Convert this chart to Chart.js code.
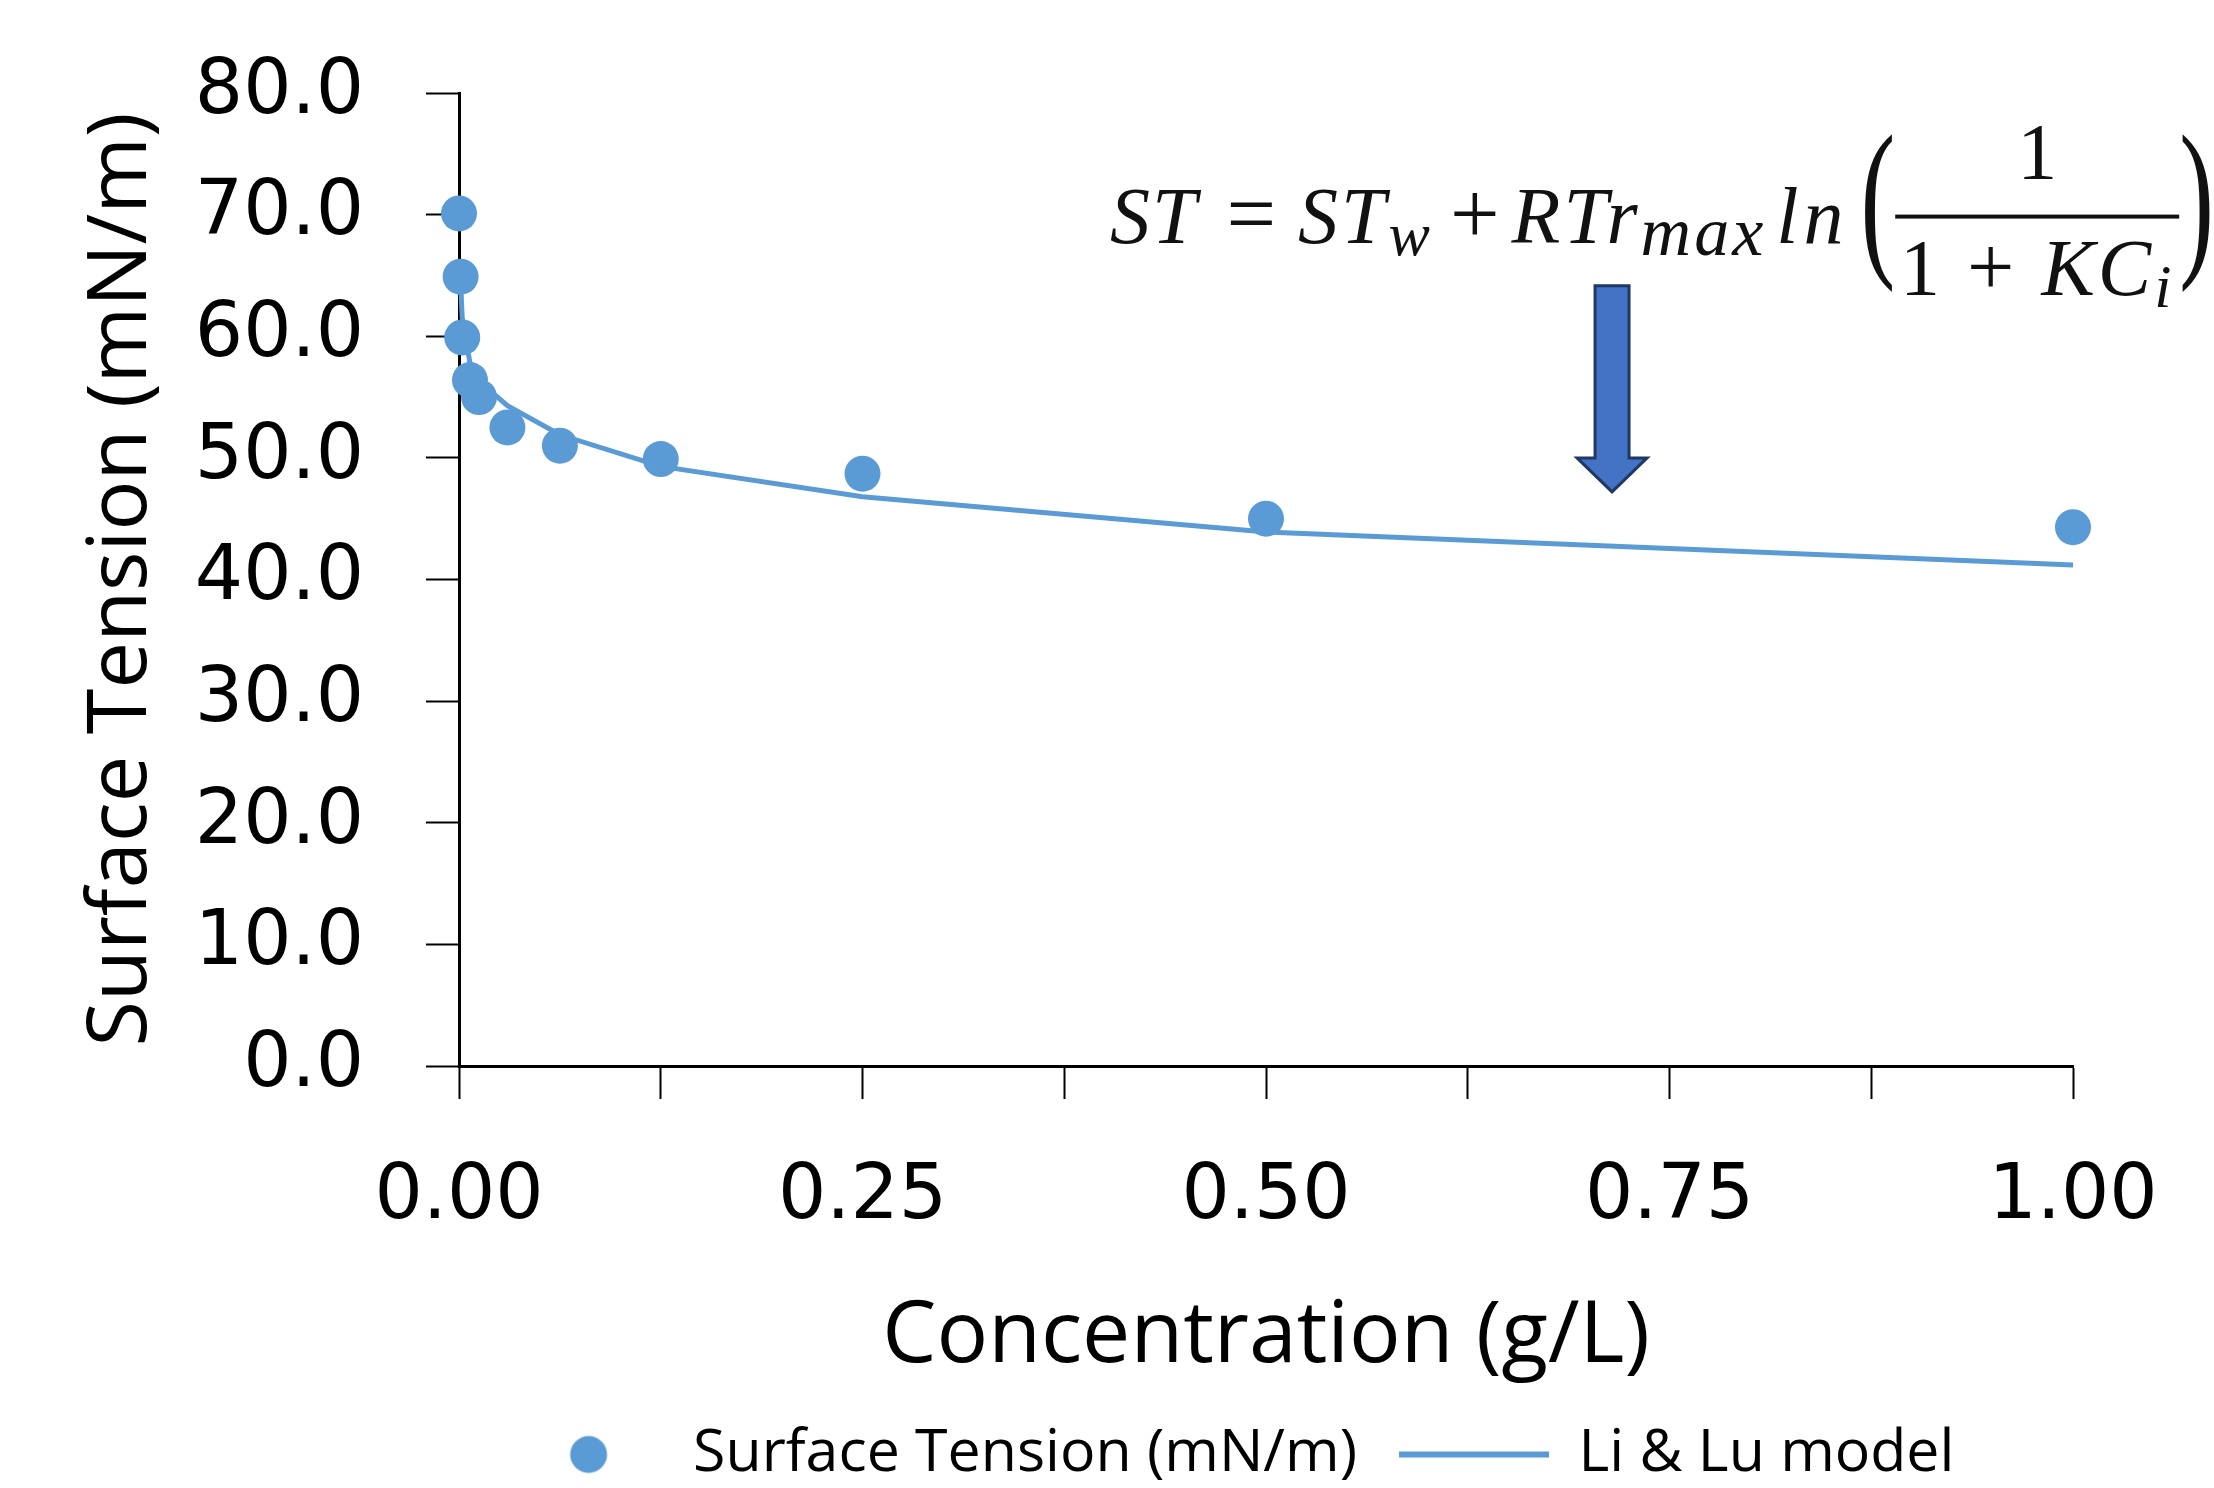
<!DOCTYPE html>
<html>
<head>
<meta charset="utf-8">
<script src="https://cdn.jsdelivr.net/npm/chart.js@4.4.1/dist/chart.umd.min.js"></script>
<style>
  html, body { margin: 0; padding: 0; background: #fff; }
  #wrap { width: 2214px; height: 1488px; }
</style>
</head>
<body>
<div id="wrap"><canvas id="stChart" width="2214" height="1488"></canvas></div>
<script>
// measured surface tension vs concentration
const concentration = [0, 0.001, 0.002, 0.0068, 0.0124, 0.03, 0.0625, 0.125, 0.25, 0.5, 1.0];
const surfaceTension = [70.1, 64.9, 59.9, 56.4, 55.0, 52.5, 51.0, 49.9, 48.7, 45.0, 44.3];

// Li & Lu model fit
const modelConcentration = [0.001, 0.002, 0.0068, 0.0124, 0.03, 0.0625, 0.125, 0.25, 0.5, 1.0];
const modelTension = [64.5, 61.5, 57.8, 56.3, 54.3, 51.9, 49.3, 46.8, 43.9, 41.2];

// axis ticks
const xTickValues = [0, 0.125, 0.25, 0.375, 0.5, 0.625, 0.75, 0.875, 1.0];
const xTickLabels = ['0.00', '', '0.25', '', '0.50', '', '0.75', '', '1.00'];
const yTickValues = [0, 10, 20, 30, 40, 50, 60, 70, 80];
const yTickLabels = ['0.0', '10.0', '20.0', '30.0', '40.0', '50.0', '60.0', '70.0', '80.0'];

// annotation anchors, in data units
const formulaAt = [0.4033, 67.7];
const arrowX = 0.7144;
const arrowFrom = 64.15, arrowNeck = 50.0, arrowTo = 47.2;

const blue = '#5B9BD5';

// legend marker for the measured points
const dot = document.createElement('canvas');
dot.width = 40; dot.height = 40;
const dctx = dot.getContext('2d');
dctx.fillStyle = blue;
dctx.beginPath();
dctx.arc(20, 20, 18.5, 0, Math.PI * 2);
dctx.fill();

const formulaPlugin = {
    id: 'formula',
    afterDraw(chart) {
        const { ctx, scales } = chart;
        let px = scales.x.getPixelForValue(formulaAt[0]);
        const base = scales.y.getPixelForValue(formulaAt[1]);
        const it = s => `italic ${s}px "Liberation Serif"`;
        const up = s => `${s}px "Liberation Serif"`;
        ctx.save();
        ctx.fillStyle = '#111';
        ctx.textBaseline = 'alphabetic';
        ctx.textAlign = 'left';
        const put = (text, font, dy = 0, gap = 0, spacing = 0) => {
            px += gap;
            ctx.font = font;
            ctx.letterSpacing = spacing + 'px';
            ctx.fillText(text, px, base + dy);
            px += ctx.measureText(text).width;
            ctx.letterSpacing = '0px';
        };
        put('ST', it(80), 0, 0, 2);
        put('=', up(88), 0, 28);
        put('ST', it(80), 0, 22, 3);
        put('w', it(62), 12);
        put('+', up(88), 0, 20);
        put('RTr', it(80), 0, 12, 3);
        put('max', it(70), 12, 0, 3);
        put('ln', it(80), 0, 10, 5);

        const paren = ch => {
            ctx.save();
            ctx.translate(px, base + 12);
            ctx.scale(0.6, 1);
            ctx.font = up(174);
            ctx.fillText(ch, 0, 0);
            const w = ctx.measureText(ch).width * 0.6;
            ctx.restore();
            px += w;
        };
        px += 12;
        paren('(');

        const barW = 284;
        const barX = px;
        ctx.fillRect(barX, base - 28, barW, 4);
        ctx.font = up(80);
        ctx.textAlign = 'center';
        ctx.fillText('1', barX + barW / 2, base - 64);

        // denominator 1 + KC_i
        ctx.textAlign = 'left';
        const parts = [['1', up(80), 0], [' + ', up(84), 0], ['KC', it(80), 0], ['i', it(62), 12]];
        ctx.letterSpacing = '3px';
        let total = 0;
        parts.forEach(p => { ctx.font = p[1]; total += ctx.measureText(p[0]).width; });
        let dx = barX + (barW - total) / 2;
        parts.forEach(p => {
            ctx.font = p[1];
            ctx.fillText(p[0], dx, base + 52 + p[2]);
            dx += ctx.measureText(p[0]).width;
        });
        ctx.letterSpacing = '0px';
        px = barX + barW;
        paren(')');
        ctx.restore();
    }
};

const arrowPlugin = {
    id: 'arrow',
    afterDraw(chart) {
        const { ctx, scales: { x, y } } = chart;
        const cx = x.getPixelForValue(arrowX);
        const top = y.getPixelForValue(arrowFrom);
        const neck = y.getPixelForValue(arrowNeck);
        const tip = y.getPixelForValue(arrowTo);
        ctx.save();
        ctx.beginPath();
        ctx.moveTo(cx - 17, top);
        ctx.lineTo(cx + 17, top);
        ctx.lineTo(cx + 17, neck);
        ctx.lineTo(cx + 35, neck);
        ctx.lineTo(cx, tip);
        ctx.lineTo(cx - 35, neck);
        ctx.lineTo(cx - 17, neck);
        ctx.closePath();
        ctx.fillStyle = '#4472C4';
        ctx.fill();
        ctx.lineWidth = 3;
        ctx.strokeStyle = '#1F3864';
        ctx.lineJoin = 'miter';
        ctx.stroke();
        ctx.restore();
    }
};

// nudge the legend row so it sits under the plot like the original
const legendNudge = {
    id: 'legendNudge',
    afterLayout(chart) {
        const l = chart.legend;
        l.left -= 32; l.right -= 32;
        l.top += 6; l.bottom += 6;
    }
};

new Chart(document.getElementById('stChart'), {
    type: 'scatter',
    data: {
        datasets: [{
            label: 'Surface Tension (mN/m)',
            data: concentration.map((c, i) => ({ x: c, y: surfaceTension[i] })),
            backgroundColor: blue,
            borderColor: blue,
            borderWidth: 0,
            pointRadius: 18,
            pointHoverRadius: 18,
            clip: false,
            order: 2
        }, {
            label: 'Li & Lu model',
            data: modelConcentration.map((c, i) => ({ x: c, y: modelTension[i] })),
            showLine: true,
            borderColor: blue,
            backgroundColor: blue,
            borderWidth: 5,
            pointRadius: 0,
            pointHoverRadius: 0,
            tension: 0,
            fill: false,
            clip: false,
            order: 1
        }]
    },
    options: {
        responsive: false,
        animation: false,
        layout: { padding: { top: 93, right: 141, left: 0, bottom: 0 } },
        scales: {
            x: {
                type: 'linear',
                min: 0,
                max: 1,
                afterBuildTicks: s => { s.ticks = xTickValues.map(v => ({ value: v })); },
                afterFit: s => { s.height = 311; },
                ticks: {
                    callback: (v, i) => xTickLabels[i],
                    autoSkip: false,
                    maxRotation: 0,
                    padding: 54,
                    color: '#000',
                    font: { family: 'DejaVu Sans', size: 76 }
                },
                grid: { drawOnChartArea: false, drawTicks: true, tickLength: 33, tickColor: '#000', tickWidth: 2 },
                border: { display: true, color: '#000', width: 3 },
                title: {
                    display: true,
                    text: 'Concentration (g/L)',
                    color: '#000',
                    font: { family: 'Open Sans', size: 86, lineHeight: 0.49 },
                    padding: { top: 0, bottom: 18 }
                }
            },
            y: {
                min: 0,
                max: 80,
                afterBuildTicks: s => { s.ticks = yTickValues.map(v => ({ value: v })); },
                afterFit: s => { s.width = 459; },
                ticks: {
                    callback: (v, i) => yTickLabels[i],
                    padding: 62,
                    color: '#000',
                    font: { family: 'DejaVu Sans', size: 76, lineHeight: 0.4 }
                },
                grid: { drawOnChartArea: false, drawTicks: true, tickLength: 33, tickColor: '#000', tickWidth: 2 },
                border: { display: true, color: '#000', width: 3 },
                title: {
                    display: true,
                    text: 'Surface Tension (mN/m)',
                    color: '#000',
                    font: { family: 'Open Sans', size: 83, lineHeight: 1 },
                    padding: { top: 81, bottom: 0 }
                }
            }
        },
        plugins: {
            legend: {
                position: 'bottom',
                fullSize: false,
                labels: {
                    usePointStyle: true,
                    pointStyleWidth: 150,
                    padding: 42,
                    color: '#000',
                    font: { family: 'Open Sans', size: 59 },
                    sort: (a, b) => a.datasetIndex - b.datasetIndex,
                    generateLabels: chart => {
                        const items = Chart.defaults.plugins.legend.labels.generateLabels(chart);
                        items.forEach(item => {
                            if (item.datasetIndex === 0) {
                                item.pointStyle = dot;
                            } else {
                                item.pointStyle = 'line';
                                item.lineWidth = 6;
                                item.strokeStyle = blue;
                            }
                        });
                        return items;
                    }
                }
            },
            tooltip: { enabled: false }
        }
    },
    plugins: [formulaPlugin, arrowPlugin, legendNudge]
});
</script>
</body>
</html>
